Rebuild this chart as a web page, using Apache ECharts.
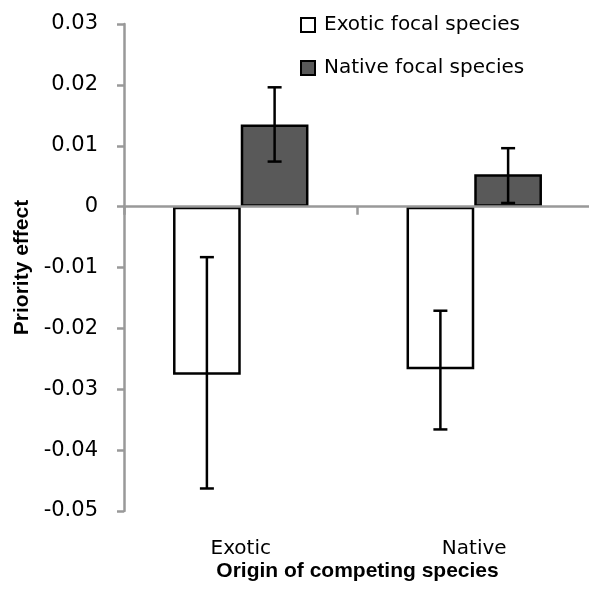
<!DOCTYPE html>
<html>
<head>
<meta charset="utf-8">
<script src="https://cdn.jsdelivr.net/npm/echarts@6/dist/echarts.min.js"></script>
<style>
  html, body { margin: 0; padding: 0; background: #fff; }
  #chart { width: 589px; height: 605px; }
</style>
</head>
<body>
<div id="chart"></div>
<script>
  // origin of competing species
  const categories = ['Exotic', 'Native'];
  const seriesNames = ['Exotic focal species', 'Native focal species'];

  // mean priority effect
  const exoticFocal = [-0.0276, -0.0267];
  const nativeFocal = [0.0135, 0.0053];

  // error bar ends (low, high)
  const exoticLow = [-0.0463, -0.0366];
  const exoticHigh = [-0.0083, -0.0171];
  const nativeLow = [0.0074, 0.0006];
  const nativeHigh = [0.0196, 0.0096];

  const GAP = 0.42;
  const font = 'DejaVu Sans';
  const boldFont = 'Liberation Sans';

  function errorSeries(low, high, sign) {
    return {
      type: 'custom',
      z: 5,
      silent: true,
      data: categories.map((c, i) => [i, low[i], high[i]]),
      renderItem: function (params, api) {
        const cat = api.value(0);
        const lo = api.coord([cat, api.value(1)]);
        const hi = api.coord([cat, api.value(2)]);
        const catW = api.size([1, 0])[0];
        const barW = catW * (1 - GAP) / 2;
        const x = lo[0] + sign * barW / 2;
        const cap = 7;
        const st = { stroke: '#000', lineWidth: 2.5 };
        return {
          type: 'group',
          children: [
            { type: 'line', shape: { x1: x, y1: lo[1], x2: x, y2: hi[1] }, style: st },
            { type: 'line', shape: { x1: x - cap, y1: lo[1], x2: x + cap, y2: lo[1] }, style: st },
            { type: 'line', shape: { x1: x - cap, y1: hi[1], x2: x + cap, y2: hi[1] }, style: st }
          ]
        };
      }
    };
  }

  const chart = echarts.init(document.getElementById('chart'));
  chart.setOption({
    animation: false,
    backgroundColor: '#fff',
    grid: { left: 124, right: -2, top: 24, bottom: 94, outerBoundsMode: 'none' },
    legend: {
      orient: 'vertical',
      left: 295,
      top: 10,
      itemWidth: 14,
      itemHeight: 14,
      itemGap: 23,
      icon: 'rect',
      data: seriesNames,
      textStyle: { fontFamily: font, fontSize: 20, color: '#000', padding: [0, 0, 0, 4] }
    },
    xAxis: [
      {
        type: 'category',
        data: categories,
        position: 'bottom',
        axisLine: { show: false, onZero: false },
        axisTick: { show: false },
        axisLabel: { margin: 28, fontFamily: font, fontSize: 20, color: '#000' },
        name: 'Origin of competing species',
        nameLocation: 'middle',
        nameGap: 50,
        nameMoveOverlap: false,
        nameTextStyle: { fontFamily: boldFont, fontSize: 21, fontWeight: 'bold', color: '#000' }
      },
      {
        type: 'category',
        data: categories,
        position: 'bottom',
        z: 3,
        axisLine: { show: true, onZero: true, lineStyle: { color: '#999', width: 2.5 } },
        axisTick: { show: true, length: 8, lineStyle: { color: '#999', width: 2.5 } },
        axisLabel: { show: false }
      }
    ],
    yAxis: {
      type: 'value',
      min: -0.05,
      max: 0.03,
      interval: 0.01,
      splitLine: { show: false },
      axisLine: { show: true, lineStyle: { color: '#999', width: 2.5 } },
      axisTick: { show: true, length: 7, lineStyle: { color: '#999', width: 2.5 } },
      axisLabel: {
        margin: 26,
        fontFamily: font,
        fontSize: 21,
        color: '#000',
        formatter: v => Math.abs(v) < 1e-9 ? '0' : v.toFixed(2)
      },
      name: 'Priority effect',
      nameLocation: 'middle',
      nameGap: 91,
      nameMoveOverlap: false,
      nameTextStyle: { fontFamily: boldFont, fontSize: 21, fontWeight: 'bold', color: '#000' }
    },
    series: [
      {
        name: seriesNames[0],
        type: 'bar',
        data: exoticFocal,
        barGap: '0%',
        barCategoryGap: (GAP * 100) + '%',
        itemStyle: { color: '#fff', borderColor: '#000', borderWidth: 2.5 }
      },
      {
        name: seriesNames[1],
        type: 'bar',
        data: nativeFocal,
        barGap: '0%',
        barCategoryGap: (GAP * 100) + '%',
        itemStyle: { color: '#595959', borderColor: '#000', borderWidth: 2.5 }
      },
      errorSeries(exoticLow, exoticHigh, -1),
      errorSeries(nativeLow, nativeHigh, 1)
    ]
  });
</script>
</body>
</html>
